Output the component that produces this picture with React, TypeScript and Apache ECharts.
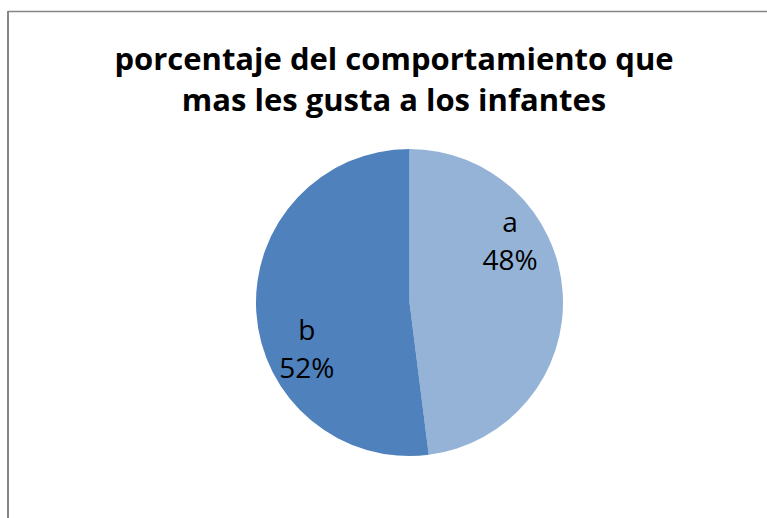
import React, { useEffect, useRef } from "react";
import * as echarts from "echarts";

const titleLines = ["porcentaje del comportamiento que", "mas les gusta a los infantes"];
const categories = ["a", "b"];
const values = [48, 52];
const colors = ["#95B3D7", "#4F81BD"];
const labelOffsets: [number, number][] = [[21, -57], [-23, 40]];

export default function App() {
  const ref = useRef<HTMLDivElement>(null);
  useEffect(() => {
    document.body.style.margin = "0";
    const chart = echarts.init(ref.current!, null, { renderer: "svg" });
    chart.setOption({
      animation: false,
      backgroundColor: "#ffffff",
      title: {
        text: titleLines.join("\n"),
        left: 394,
        top: 37,
        padding: 0,
        textAlign: "center",
        textStyle: {
          fontFamily: "Open Sans",
          fontWeight: "bold",
          fontSize: 31,
          lineHeight: 41,
          color: "#000000",
        },
      },
      graphic: [
        { type: "line", shape: { x1: 8, y1: 11.5, x2: 800, y2: 11.5 }, style: { stroke: "#868686", lineWidth: 1.5 } },
        { type: "line", shape: { x1: 8, y1: 11, x2: 8, y2: 600 }, style: { stroke: "#868686", lineWidth: 2 } },
      ],
      series: [
        {
          type: "pie",
          center: [409.5, 302.5],
          radius: 153.5,
          startAngle: 90,
          clockwise: true,
          avoidLabelOverlap: false,
          itemStyle: { borderWidth: 0 },
          emphasis: { disabled: true },
          label: {
            show: true,
            position: "inside",
            formatter: "{b}\n{d}%",
            fontFamily: "Open Sans",
            fontSize: 28,
            lineHeight: 38,
            color: "#000000",
          },
          labelLine: { show: false },
          data: categories.map((c, i) => ({
            name: c,
            value: values[i],
            itemStyle: { color: colors[i] },
            label: { offset: labelOffsets[i] },
          })),
        },
      ],
    });
    return () => chart.dispose();
  }, []);
  return <div ref={ref} style={{ width: 767, height: 518 }} />;
}
